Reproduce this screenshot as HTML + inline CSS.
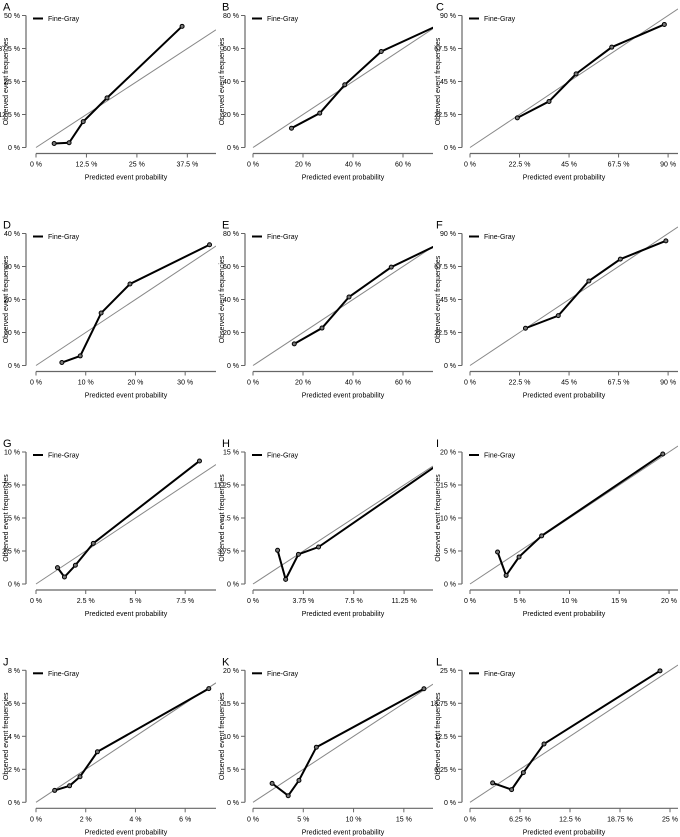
<!DOCTYPE html>
<html><head><meta charset="utf-8"><style>
html,body{margin:0;padding:0;background:#fff;}
svg{display:block;font-family:"Liberation Sans",sans-serif;}
</style></head><body>
<svg id="fig" width="680" height="837" viewBox="0 0 680 837"></svg>
<script>
// ---- data (predicted %, observed %) ----
const predA=[4.5,8.2,11.7,17.6,36.2];   const obsA=[1.5,1.8,9.8,18.8,45.9];
const predB=[15.4,26.7,36.7,51.3,74];   const obsB=[11.7,20.8,38,58.2,74];
const predC=[21.5,35.9,48.2,64.4,88.3]; const obsC=[20.2,31.4,50.2,68.4,83.9];
const predD=[5.2,8.9,13.1,18.9,34.9];   const obsD=[0.9,2.9,15.9,24.7,36.6];
const predE=[16.5,27.6,38.4,55.3,74];   const obsE=[13.1,22.7,41.5,59.6,73.3];
const predF=[25.2,40.1,54,68.3,89];     const obsF=[25.4,34,57.6,72.5,85];
const predG=[1.08,1.43,1.98,2.88,8.22]; const obsG=[1.24,0.53,1.42,3.08,9.32];
const predH=[1.83,2.43,3.38,4.88,13.6]; const obsH=[3.83,0.53,3.37,4.2,13.4];
const predI=[2.77,3.63,4.93,7.2,19.37]; const obsI=[4.85,1.3,4.1,7.3,19.7];
const predJ=[0.75,1.35,1.77,2.47,6.95]; const obsJ=[0.72,1.0,1.55,3.06,6.89];
const predK=[1.9,3.5,4.57,6.3,17];      const obsK=[2.87,1.0,3.32,8.35,17.2];
const predL=[2.83,5.2,6.67,9.25,23.75]; const obsL=[3.67,2.4,5.63,11.05,24.9];
// end markers hidden for clipped series
const hideLastB=true, hideLastE=true, hideLastH=true;
// ---- tick values ----
const xTicksA=[0,12.5,25,37.5]; const yTicksA=[0,12.5,25,37.5,50];
const xTicksB=[0,20,40,60];     const yTicksB=[0,20,40,60,80];
const xTicksC=[0,22.5,45,67.5,90]; const yTicksC=[0,22.5,45,67.5,90];
const xTicksD=[0,10,20,30];     const yTicksD=[0,10,20,30,40];
const xTicksE=[0,20,40,60];     const yTicksE=[0,20,40,60,80];
const xTicksF=[0,22.5,45,67.5,90]; const yTicksF=[0,22.5,45,67.5,90];
const xTicksG=[0,2.5,5,7.5];    const yTicksG=[0,2.5,5,7.5,10];
const xTicksH=[0,3.75,7.5,11.25]; const yTicksH=[0,3.75,7.5,11.25,15];
const xTicksI=[0,5,10,15,20];   const yTicksI=[0,5,10,15,20];
const xTicksJ=[0,2,4,6];        const yTicksJ=[0,2,4,6,8];
const xTicksK=[0,5,10,15];      const yTicksK=[0,5,10,15,20];
const xTicksL=[0,6.25,12.5,18.75,25]; const yTicksL=[0,6.25,12.5,18.75,25];
const xMaxA=44.6, xMaxB=72, xMaxC=94.5, xMaxD=36.2, xMaxE=72, xMaxF=94.5, xMaxG=9.05, xMaxH=13.4, xMaxI=20.9, xMaxJ=7.24, xMaxK=17.9, xMaxL=26;

const NS="http://www.w3.org/2000/svg";
const svg=document.getElementById('fig');
function mk(tag,attrs,parent){const e=document.createElementNS(NS,tag);for(const k in attrs)e.setAttribute(k,attrs[k]);(parent||svg).appendChild(e);return e;}
function fmt(v){return v+' %';}

const cols=[{yAx:26,x0:36,x1:216,tx:5,lx:3},{yAx:245,x0:253,x1:433,tx:221,lx:222},{yAx:462,x0:470,x1:678,tx:437,lx:436}];
const rows=[147.5,365.5,584,802.3];
const panels=[
 ['A',predA,obsA,xTicksA,yTicksA,xMaxA,false],['B',predB,obsB,xTicksB,yTicksB,xMaxB,hideLastB],['C',predC,obsC,xTicksC,yTicksC,xMaxC,false],
 ['D',predD,obsD,xTicksD,yTicksD,xMaxD,false],['E',predE,obsE,xTicksE,yTicksE,xMaxE,hideLastE],['F',predF,obsF,xTicksF,yTicksF,xMaxF,false],
 ['G',predG,obsG,xTicksG,yTicksG,xMaxG,false],['H',predH,obsH,xTicksH,yTicksH,xMaxH,hideLastH],['I',predI,obsI,xTicksI,yTicksI,xMaxI,false],
 ['J',predJ,obsJ,xTicksJ,yTicksJ,xMaxJ,false],['K',predK,obsK,xTicksK,yTicksK,xMaxK,false],['L',predL,obsL,xTicksL,yTicksL,xMaxL,false]];

panels.forEach((p,i)=>{
  const [lab,px,py,xt,yt,xmax,hideLast]=p;
  const c=cols[i%3], y0=rows[Math.floor(i/3)], yTop=y0-132;
  const ymax=yt[yt.length-1];
  const sx=v=>c.x0+(v/xmax)*(c.x1-c.x0);
  const sy=v=>y0-(v/ymax)*132;
  const g=mk('g',{});
  
  
  const cid='clip'+lab;
  const cp=mk('clipPath',{id:cid},g); mk('rect',{x:c.yAx,y:yTop-8,width:c.x1-c.yAx,height:150},cp);
  const t=mk('text',{x:c.lx,y:yTop-5,'font-size':11,fill:'#000'},g); t.textContent=lab;
   
  // y axis
  const ya=mk('line',{x1:c.yAx,y1:yTop,x2:c.yAx,y2:y0,stroke:'#666','stroke-width':1.2},g);
   
  yt.forEach(v=>{
    mk('line',{x1:c.yAx-4,y1:sy(v),x2:c.yAx,y2:sy(v),stroke:'#666'},g);
    const tt=mk('text',{x:c.yAx-6,y:sy(v)+2.5,'font-size':7,'text-anchor':'end',fill:'#000'},g); tt.textContent=fmt(v);
     
  });
  const yl=mk('text',{x:0,y:0,'font-size':7,'text-anchor':'middle',transform:`translate(${c.tx+3},${y0-66}) rotate(-90)`},g);
  yl.textContent='Observed event frequencies';
   
  // x axis
  const xa=mk('line',{x1:c.x0,y1:y0+6,x2:c.x1,y2:y0+6,stroke:'#666','stroke-width':1.2},g);
   
  xt.forEach(v=>{
    mk('line',{x1:sx(v),y1:y0+6,x2:sx(v),y2:y0+10,stroke:'#666'},g);
    const tt=mk('text',{x:sx(v),y:y0+19,'font-size':7,'text-anchor':'middle',fill:'#000'},g); tt.textContent=fmt(v);
     
  });
  const xl=mk('text',{x:(c.x0+c.x1)/2-(i%3==2?10:0),y:y0+32,'font-size':7,'text-anchor':'middle'},g);
  xl.textContent='Predicted event probability';
   
  // diagonal
  const dg=mk('line',{x1:sx(0),y1:sy(0),x2:sx(xmax),y2:sy(xmax),stroke:'#888','stroke-width':1,'clip-path':`url(#${cid})`},g);
   
  // series
  const pts=px.map((v,k)=>sx(v)+','+sy(py[k])).join(' ');
  const pl=mk('polyline',{points:pts,fill:'none',stroke:'#000','stroke-width':2,'clip-path':`url(#${cid})`},g);
   
  px.forEach((v,k)=>{
    if(hideLast && k===px.length-1) return;
    const m=mk('circle',{cx:sx(v),cy:sy(py[k]),r:2,fill:'#777',stroke:'#000','stroke-width':1},g);
     
  });
  // legend
  const lg=mk('g',{},g);
   
  mk('line',{x1:c.yAx+7,y1:yTop+3,x2:c.yAx+17,y2:yTop+3,stroke:'#000','stroke-width':2},lg);
  const lt=mk('text',{x:c.yAx+22,y:yTop+5.5,'font-size':7},lg); lt.textContent='Fine-Gray';
});
</script>
</body></html>
